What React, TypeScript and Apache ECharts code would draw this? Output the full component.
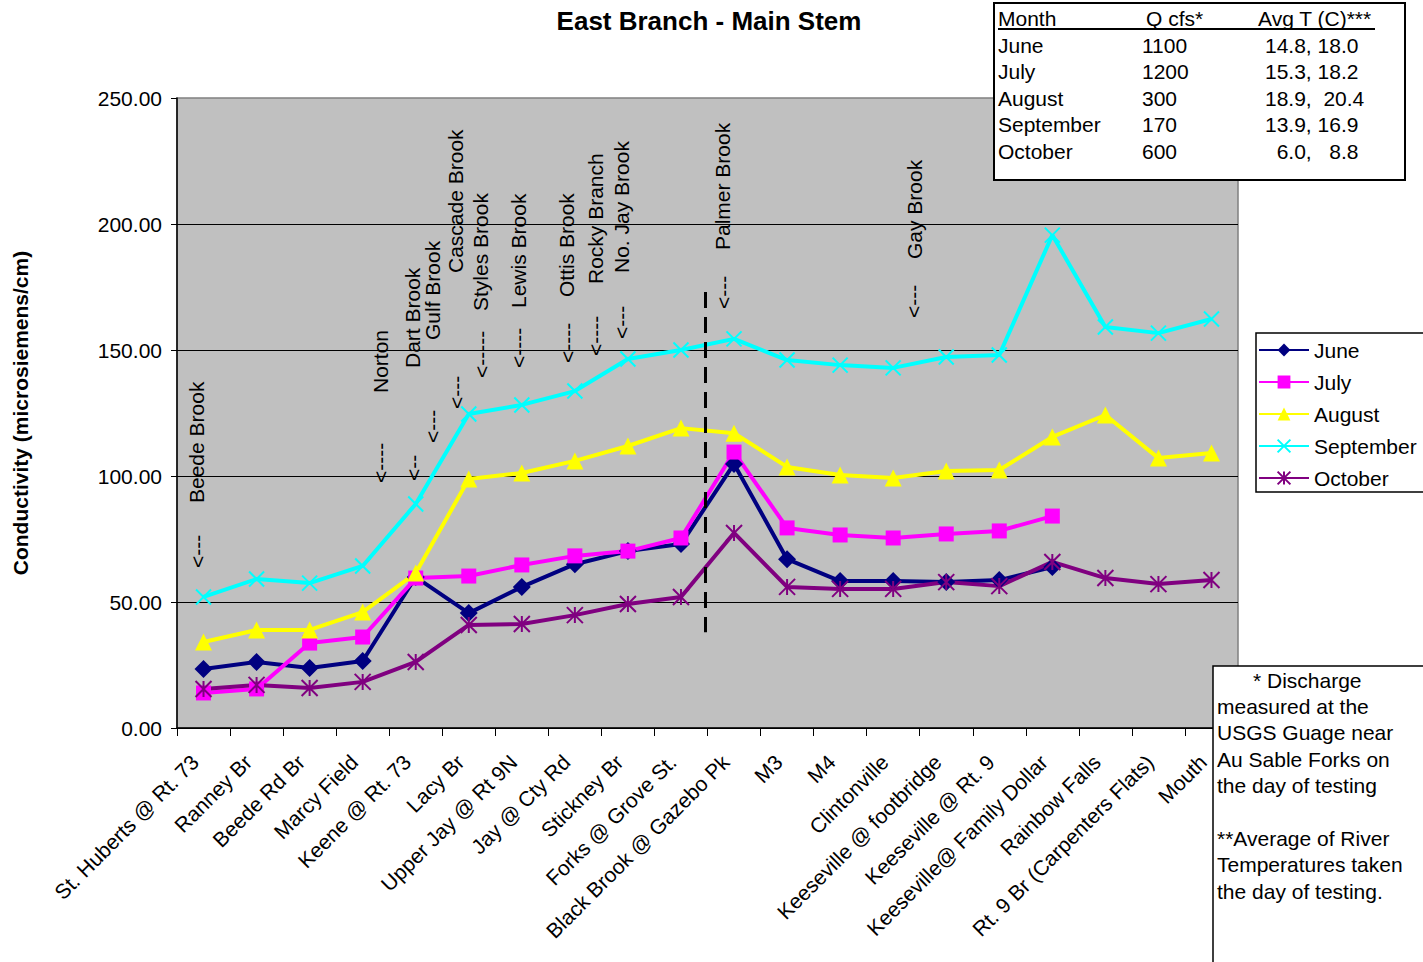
import React, { useEffect, useRef } from "react";
import * as echarts from "echarts";

// Sampling sites along the East Branch, upstream to mouth
const sites = [
  "St. Huberts @ Rt. 73",
  "Ranney Br",
  "Beede Rd Br",
  "Marcy Field",
  "Keene @ Rt. 73",
  "Lacy Br",
  "Upper Jay @ Rt 9N",
  "Jay @ Cty Rd",
  "Stickney Br",
  "Forks @ Grove St.",
  "Black Brook @ Gazebo Pk",
  "M3",
  "M4",
  "Clintonville",
  "Keeseville @ footbridge",
  "Keeseville @ Rt. 9",
  "Keeseville@ Family Dollar",
  "Rainbow Falls",
  "Rt. 9 Br (Carpenters Flats)",
  "Mouth",
];

// Conductivity (microsiemens/cm) per monthly survey
const june = [23.4, 26.2, 23.8, 26.6, 59.9, 45.6, 56.0, 65.0, 70.2, 73.0, 104.8, 67.0, 58.3, 58.3, 57.9, 58.7, 63.9, null, null, null];
const july = [13.9, 15.5, 33.7, 36.1, 59.5, 60.3, 64.7, 68.3, 70.2, 75.4, 109.5, 79.4, 76.6, 75.4, 77.0, 78.2, 84.1, null, null, null];
const august = [34.1, 38.9, 38.9, 46.0, 61.5, 98.8, 101.2, 106.0, 111.9, 119.0, 117.0, 103.6, 100.4, 99.2, 102.0, 102.4, 115.5, 124.2, 107.1, 109.1];
const september = [52.0, 59.1, 57.5, 64.3, 88.9, 124.6, 128.2, 133.7, 146.4, 150.0, 154.4, 146.0, 144.0, 142.9, 147.2, 148.0, 195.6, 159.1, 156.7, 162.3];
const october = [15.5, 17.1, 15.9, 18.3, 26.2, 40.9, 41.3, 44.8, 49.2, 52.0, 77.4, 56.0, 55.2, 55.2, 57.9, 56.3, 65.9, 59.5, 57.1, 58.7];

// Flow and temperature table
const tableHeader = ["Month", "Q cfs*", "Avg T (C)***"];
const tableMonths = ["June", "July", "August", "September", "October"];
const tableFlow = ["1100", "1200", "300", "170", "600"];
const tableTemp = ["14.8, 18.0", "15.3, 18.2", "18.9,  20.4", "13.9, 16.9", "  6.0,   8.8"];

const footnotes = [
  "* Discharge",
  "measured at the",
  "USGS Guage near",
  "Au Sable Forks on",
  "the day of testing",
  "",
  "**Average of River",
  "Temperatures taken",
  "the day of testing.",
];

// Tributaries entering the main stem
const tributaries = [
  "Beede Brook",
  "Norton",
  "Dart Brook",
  "Gulf Brook",
  "Cascade Brook",
  "Styles Brook",
  "Lewis Brook",
  "Ottis Brook",
  "Rocky Branch",
  "No. Jay Brook",
  "Palmer Brook",
  "Gay Brook",
];

const FONT = '"Liberation Sans", Arial, Helvetica, sans-serif';

// label position (x centre, y of text start) and arrow (x, y start, glyph)
const tribLayout: [number, number, number, number, string][] = [
  [196, 503, 197, 568, "<---"],
  [380, 393, 380, 483, "<----"],
  [412, 368, 413, 481, "<--"],
  [432, 340, 432, 443, "<---"],
  [455, 273, 456, 409, "<---"],
  [480, 311, 481, 378, "<-----"],
  [518, 308, 518, 368, "<----"],
  [566, 297, 567, 363, "<----"],
  [595, 284, 595, 356, "<----"],
  [621, 273, 621, 339, "<---"],
  [722, 250, 723, 309, "<---"],
  [914, 259, 913, 318, "<---"],
];

function vText(text: string, x: number, y: number) {
  return {
    type: "text",
    x,
    y,
    rotation: Math.PI / 2,
    z: 50,
    style: {
      text,
      fontFamily: FONT,
      fontSize: 21,
      fill: "#000",
      align: "left",
      verticalAlign: "middle",
    },
  };
}

function plainText(text: string, x: number, y: number, z = 101) {
  return {
    type: "text",
    x,
    y,
    z,
    style: {
      text,
      fontFamily: FONT,
      fontSize: 21,
      fill: "#000",
      align: "left",
      verticalAlign: "middle",
    },
  };
}

export default function App() {
  const ref = useRef<HTMLDivElement>(null);

  useEffect(() => {
    document.body.style.margin = "0";
    if (!ref.current) return;
    const chart = echarts.init(ref.current, undefined, { renderer: "svg" });

    const lineSeries = (
      name: string,
      data: (number | null)[],
      color: string,
      symbol: string,
      symbolSize: number,
      stroked: boolean
    ) => ({
      name,
      type: "line",
      data,
      symbol,
      symbolSize,
      showAllSymbol: true,
      connectNulls: false,
      lineStyle: { color, width: 4 },
      itemStyle: stroked
        ? { color, borderColor: color, borderWidth: 2 }
        : { color, borderWidth: 0 },
      emphasis: { disabled: true },
    });

    const option: any = {
      animation: false,
      backgroundColor: "#ffffff",
      textStyle: { fontFamily: FONT },
      title: {
        text: "East Branch - Main Stem",
        left: 704,
        top: 3,
        textAlign: "center",
        textStyle: { fontFamily: FONT, fontSize: 26, fontWeight: "bold", color: "#000" },
      },
      grid: {
        left: 177,
        top: 98,
        width: 1061,
        height: 630,
        show: true,
        backgroundColor: "#c0c0c0",
        borderColor: "#808080",
        borderWidth: 1.5,
        containLabel: false,
        outerBoundsMode: "none",
      },
      legend: {
        orient: "vertical",
        left: 1258,
        top: 339,
        itemWidth: 50,
        itemHeight: 16,
        itemGap: 10,
        padding: 0,
        textStyle: { fontFamily: FONT, fontSize: 21, color: "#000", lineHeight: 22 },
        data: ["June", "July", "August", "September", "October"],
      },
      xAxis: {
        type: "category",
        data: sites,
        boundaryGap: true,
        axisLine: { lineStyle: { color: "#000", width: 1.5 } },
        axisTick: { show: true, length: 8, lineStyle: { color: "#000" } },
        axisLabel: {
          rotate: 45,
          interval: 0,
          margin: 22,
          padding: [0, 12, 0, 0],
          fontFamily: FONT,
          fontSize: 21,
          color: "#000",
        },
        splitLine: { show: false },
      },
      yAxis: {
        type: "value",
        min: 0,
        max: 250,
        interval: 50,
        name: "Conductivity (microsiemens/cm)",
        nameLocation: "middle",
        nameGap: 146,
        nameTextStyle: { fontFamily: FONT, fontSize: 21, fontWeight: "bold", color: "#000" },
        axisLine: { show: true, lineStyle: { color: "#000", width: 1.5 } },
        axisTick: { show: true, length: 6, lineStyle: { color: "#000" } },
        axisLabel: {
          margin: 15,
          fontFamily: FONT,
          fontSize: 21,
          color: "#000",
          formatter: (v: number) => v.toFixed(2),
        },
        splitLine: { show: true, showMaxLine: false, lineStyle: { color: "#000", width: 1 } },
      },
      series: [
        lineSeries("June", june, "#000080", "diamond", 18, false),
        lineSeries("July", july, "#ff00ff", "rect", 15, false),
        lineSeries("August", august, "#ffff00", "triangle", 17, false),
        lineSeries("September", september, "#00ffff", "path://M0,0 L10,10 M10,0 L0,10", 15, true),
        lineSeries("October", october, "#800080", "path://M0,0 L10,10 M10,0 L0,10 M5,0 L5,10", 16, true),
      ],
    };

    chart.setOption(option);

    // Divider between Forks and Black Brook, placed through the axes
    const pA = chart.convertToPixel({ gridIndex: 0 }, [9, 38]) as number[];
    const pB = chart.convertToPixel({ gridIndex: 0 }, [10, 173]) as number[];
    const divX = (pA[0] + pB[0]) / 2 - 2;

    const graphics: any[] = [];

    graphics.push({
      type: "line",
      z: 40,
      shape: { x1: divX, y1: pB[1], x2: divX, y2: pA[1] },
      style: { stroke: "#000", lineWidth: 3, lineDash: [16, 9] },
    });

    tributaries.forEach((name, i) => {
      const [lx, ly, ax, ay, arrow] = tribLayout[i];
      graphics.push(vText(name, lx, ly));
      graphics.push(vText(arrow, ax, ay));
    });

    // Legend frame
    graphics.push({
      type: "rect",
      z: 3,
      shape: { x: 1256, y: 333, width: 180, height: 159 },
      style: { fill: "#fff", stroke: "#000", lineWidth: 1.5 },
    });

    // Flow / temperature table
    graphics.push({
      type: "rect",
      z: 100,
      shape: { x: 994, y: 3, width: 411, height: 177 },
      style: { fill: "#fff", stroke: "#000", lineWidth: 2 },
    });
    graphics.push(plainText(tableHeader[0], 998, 18));
    graphics.push(plainText(tableHeader[1], 1146, 18));
    graphics.push(plainText(tableHeader[2], 1258, 18));
    graphics.push({
      type: "line",
      z: 101,
      shape: { x1: 998, y1: 29, x2: 1375, y2: 29 },
      style: { stroke: "#000", lineWidth: 2 },
    });
    tableMonths.forEach((m, i) => {
      const y = 45 + i * 26.5;
      graphics.push(plainText(m, 998, y));
      graphics.push(plainText(tableFlow[i], 1142, y));
      graphics.push(plainText(tableTemp[i], 1265, y));
    });

    // Footnotes
    graphics.push({
      type: "rect",
      z: 100,
      shape: { x: 1213, y: 666, width: 220, height: 310 },
      style: { fill: "#fff", stroke: "#000", lineWidth: 1.5 },
    });
    footnotes.forEach((t, i) => {
      if (!t) return;
      graphics.push(plainText(t, i === 0 ? 1253 : 1217, 680 + i * 26.4));
    });

    chart.setOption({ graphic: graphics });

    return () => chart.dispose();
  }, []);

  return (
    <div
      ref={ref}
      style={{ position: "absolute", left: 0, top: 0, width: 1423, height: 962 }}
    />
  );
}
